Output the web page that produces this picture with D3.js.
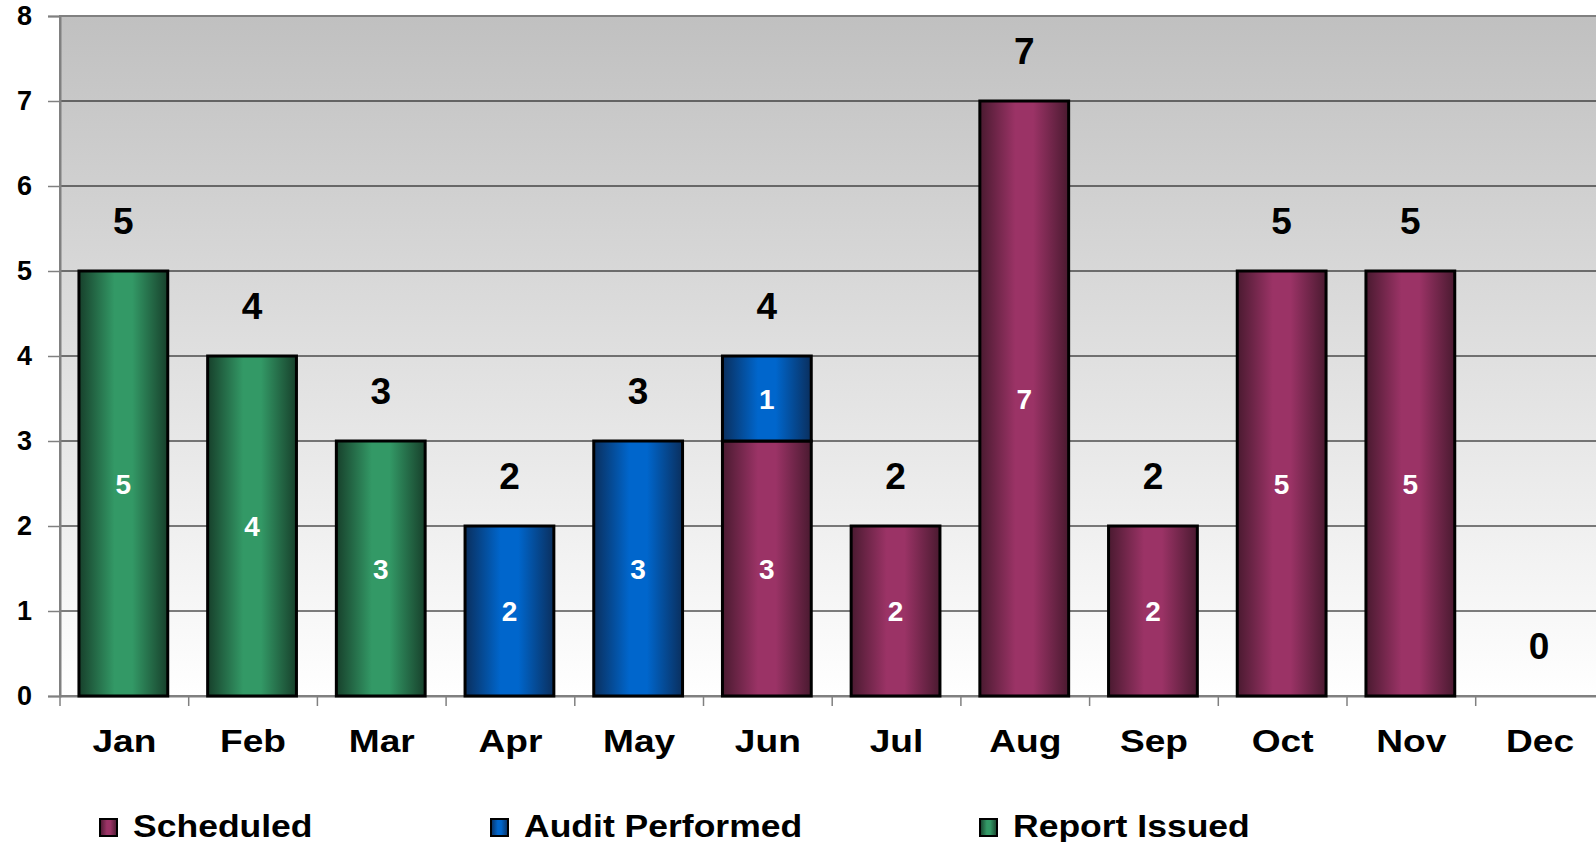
<!DOCTYPE html>
<html>
<head>
<meta charset="utf-8">
<script src="https://cdn.jsdelivr.net/npm/d3@7"></script>
<style>
  html, body { margin: 0; padding: 0; background: #fff; overflow: hidden; }
  svg { display: block; font-family: "Liberation Sans", Arial, sans-serif; font-weight: bold; }
</style>
</head>
<body>
<svg id="chart"></svg>
<script>
const months = ['Jan', 'Feb', 'Mar', 'Apr', 'May', 'Jun', 'Jul', 'Aug', 'Sep', 'Oct', 'Nov', 'Dec'];
const scheduled = [0, 0, 0, 0, 0, 3, 2, 7, 2, 5, 5, 0];
const auditPerformed = [0, 0, 0, 2, 3, 1, 0, 0, 0, 0, 0, 0];
const reportIssued = [5, 4, 3, 0, 0, 0, 0, 0, 0, 0, 0, 0];
const yTicks = [0, 1, 2, 3, 4, 5, 6, 7, 8];

const width = 1596;
const height = 842;
const series = [
    { key: 'Scheduled', values: scheduled, dark: '#4a1a30', light: '#9b3366' },
    { key: 'Audit Performed', values: auditPerformed, dark: '#0a2f5e', light: '#0066cc' },
    { key: 'Report Issued', values: reportIssued, dark: '#17402b', light: '#339966' }
];

const plotLeft = 60, plotTop = 16, plotBottom = 696;
const bandW = 128.7;

const svg = d3.select('#chart')
    .attr('width', width)
    .attr('height', height);

const x = d3.scaleBand()
    .domain(months)
    .range([plotLeft, plotLeft + bandW * 12])
    .padding(0);

const y = d3.scaleLinear()
    .domain([0, 8])
    .range([plotBottom, plotTop]);

const defs = svg.append('defs');

const bg = defs.append('linearGradient')
    .attr('id', 'bg')
    .attr('x1', 0).attr('y1', 0).attr('x2', 0).attr('y2', 1);
bg.append('stop').attr('offset', '0%').attr('stop-color', '#c0c0c0');
bg.append('stop').attr('offset', '100%').attr('stop-color', '#ffffff');

for (const s of series) {
    const g = defs.append('linearGradient')
        .attr('id', 'grad' + s.key.replace(/\s/g, ''))
        .attr('x1', 0).attr('y1', 0).attr('x2', 1).attr('y2', 0);
    g.append('stop').attr('offset', '0%').attr('stop-color', s.dark);
    g.append('stop').attr('offset', '40%').attr('stop-color', s.light);
    g.append('stop').attr('offset', '60%').attr('stop-color', s.light);
    g.append('stop').attr('offset', '100%').attr('stop-color', s.dark);
}

// plot background
svg.append('rect')
    .attr('x', plotLeft)
    .attr('y', plotTop)
    .attr('width', x.range()[1] - plotLeft)
    .attr('height', plotBottom - plotTop)
    .attr('fill', 'url(#bg)')
    .attr('stroke', '#808080')
    .attr('stroke-width', 2);

// gridlines
svg.append('g')
    .selectAll('line')
    .data(yTicks.filter(d => d > 0 && d < 8))
    .enter().append('line')
    .attr('x1', plotLeft)
    .attr('x2', x.range()[1])
    .attr('y1', d => y(d))
    .attr('y2', d => y(d))
    .attr('stroke', '#000')
    .attr('stroke-width', 1);

// y axis
const yAxis = svg.append('g')
    .attr('transform', `translate(${plotLeft},0)`)
    .call(d3.axisLeft(y).tickValues(yTicks).tickSize(12).tickPadding(16));
yAxis.select('.domain').attr('stroke', '#808080').attr('stroke-width', 2);
yAxis.selectAll('.tick line').attr('stroke', '#808080').attr('stroke-width', 1.5);
yAxis.selectAll('.tick text')
    .attr('fill', '#000')
    .style('font-size', '27px')
    .style('font-weight', 'bold')
    .style('font-family', '"Liberation Sans", Arial, sans-serif');

// x axis (labels are drawn a little wide, like the original)
const xAxis = svg.append('g')
    .attr('transform', `translate(0,${plotBottom})`)
    .call(d3.axisBottom(x).tickSize(0).tickPadding(33));
xAxis.select('.domain').attr('stroke', '#808080').attr('stroke-width', 2);
xAxis.selectAll('.tick text')
    .attr('fill', '#000')
    .attr('transform', 'scale(1.16,1)')
    .style('font-size', '32px')
    .style('font-weight', 'bold')
    .style('font-family', '"Liberation Sans", Arial, sans-serif');

svg.append('g')
    .selectAll('line')
    .data(months)
    .enter().append('line')
    .attr('x1', d => x(d))
    .attr('x2', d => x(d))
    .attr('y1', plotBottom)
    .attr('y2', plotBottom + 10)
    .attr('stroke', '#808080')
    .attr('stroke-width', 1.5);

// stacked bars
const rows = months.map((m, i) => {
    const r = { month: m };
    series.forEach(s => { r[s.key] = s.values[i]; });
    return r;
});
const stacked = d3.stack().keys(series.map(s => s.key))(rows);

const barW = x.bandwidth() * 0.69;
const barX = d => x(d.data.month) + (x.bandwidth() - barW) / 2 - 1;

const layers = svg.append('g')
    .selectAll('g')
    .data(stacked)
    .enter().append('g')
    .attr('fill', d => 'url(#grad' + d.key.replace(/\s/g, '') + ')');

layers.selectAll('rect')
    .data(d => d.filter(p => p[1] - p[0] > 0))
    .enter().append('rect')
    .attr('x', barX)
    .attr('width', barW)
    .attr('y', d => y(d[1]))
    .attr('height', d => y(d[0]) - y(d[1]))
    .attr('stroke', '#000')
    .attr('stroke-width', 3);

layers.selectAll('text')
    .data(d => d.filter(p => p[1] - p[0] > 0))
    .enter().append('text')
    .attr('x', d => barX(d) + barW / 2)
    .attr('y', d => y((d[0] + d[1]) / 2))
    .attr('dy', '0.36em')
    .attr('text-anchor', 'middle')
    .attr('fill', '#fff')
    .style('font-size', '28px')
    .text(d => d[1] - d[0]);

// totals
svg.append('g')
    .selectAll('text')
    .data(rows)
    .enter().append('text')
    .attr('x', d => x(d.month) + x.bandwidth() / 2 - 1)
    .attr('y', d => y(d3.sum(series, s => d[s.key])) - 50)
    .attr('dy', '0.36em')
    .attr('text-anchor', 'middle')
    .attr('fill', '#000')
    .style('font-size', '37px')
    .text(d => d3.sum(series, s => d[s.key]));

// legend
const legendX = [100, 491, 980];
const legend = svg.append('g')
    .selectAll('g')
    .data(series)
    .enter().append('g')
    .attr('transform', (d, i) => `translate(${legendX[i]},819)`);

legend.append('rect')
    .attr('width', 17)
    .attr('height', 17)
    .attr('fill', d => 'url(#grad' + d.key.replace(/\s/g, '') + ')')
    .attr('stroke', '#000')
    .attr('stroke-width', 2);

legend.append('text')
    .attr('transform', 'translate(33,18) scale(1.11,1)')
    .attr('fill', '#000')
    .style('font-size', '32px')
    .text(d => d.key);
</script>
</body>
</html>
